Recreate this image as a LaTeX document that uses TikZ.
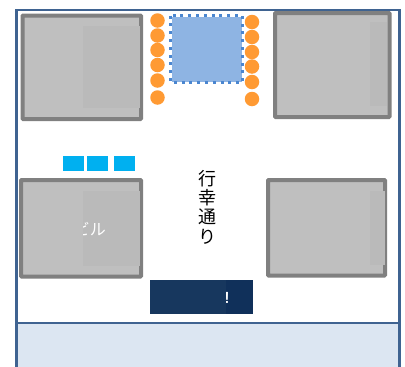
\documentclass[tikz,border=0pt]{standalone}
\usepackage{fontspec}
\newfontfamily\cjk{Noto Sans CJK JP}
\definecolor{frameblue}{HTML}{3F6391}
\definecolor{bandfill}{HTML}{DCE6F2}
\definecolor{bldgedge}{HTML}{808080}
\definecolor{bldgfill}{HTML}{BFBFBF}
\definecolor{bldginner}{HTML}{BABABA}
\definecolor{orangedot}{HTML}{FF9A33}
\definecolor{plazafill}{HTML}{8EB4E3}
\definecolor{plazaedge}{HTML}{4A86D0}
\definecolor{cyanbox}{HTML}{00B0F0}
\definecolor{navyA}{HTML}{17375E}
\definecolor{navyB}{HTML}{10305A}
\tikzset{
  bldg/.style={draw=bldgedge,fill=bldgfill,line width=4pt,rounded corners=0.6pt},
  inner part/.style={fill=bldginner,draw=none},
  dot/.style={circle,fill=orangedot,draw=none,minimum size=14.5pt,inner sep=0pt},
  seat/.style={fill=cyanbox,draw=none},
}
\begin{document}
\begin{tikzpicture}[x=1pt,y=-1pt]
\useasboundingbox (0,0) rectangle (405,367);
\fill[white] (0,0) rectangle (405,367);
% outer frame and band
\fill[bandfill] (18,323) rectangle (398.5,367);
\draw[frameblue,line width=2.6pt] (16.7,367) -- (16.7,10) -- (399.5,10) -- (399.5,367);
\draw[frameblue,line width=2.6pt] (16.7,323) -- (399.5,323);
% buildings
\draw[bldg] (22.5,15.5) rectangle (141,119);
\fill[inner part] (83,26) rectangle (140,108);
\draw[bldg] (275,13) rectangle (389.5,117);
\fill[inner part] (370,22) rectangle (387,106);
\draw[bldg] (21,180) rectangle (141,276.5);
\fill[inner part] (83,190.7) rectangle (139.5,266);
\draw[bldg] (268,180) rectangle (385,275.5);
\fill[inner part] (370,191) rectangle (385,265);
% clipped label on building
\begin{scope}
\clip (83,190) rectangle (140,266);
\node[text=white,font=\cjk\fontsize{16}{16}\selectfont,inner sep=0pt] (bldglabel) at (90,229.5) {ビル};
\end{scope}
% plaza
\fill[plazafill] (171.5,17) rectangle (241.5,81.5);
\draw[plazaedge,line width=3pt,dash pattern=on 3pt off 4.8pt] (170.5,15.5) rectangle (242.5,82.5);
% orange dots
\foreach \n/\y in {a/20.5,b/35.5,c/50,d/65,e/80.5,f/97.5}{\node[dot] (l\n) at (157.5,\y) {};}
\foreach \n/\y in {a/22,b/37,c/52,d/66.5,e/82,f/99}{\node[dot] (r\n) at (252,\y) {};}
% cyan boxes
\fill[seat] (63,156) rectangle (84,171);
\fill[seat] (87,156) rectangle (108,171);
\fill[seat] (114,156) rectangle (135,171);
% vertical street name
\node[font=\cjk\fontsize{18}{19.3}\selectfont,align=center,inner sep=0pt,text=black] (street) at (207,207) {行\\幸\\通\\り};
% navy block
\fill[navyA] (150,280) rectangle (226,314);
\fill[navyB] (226,280) rectangle (253,314);
\begin{scope}
\clip (226,280) rectangle (253,314);
\node[text=white,font=\sffamily\bfseries\fontsize{16}{16}\selectfont,inner sep=0pt] (navylabel) at (227,297.5) {!};
\end{scope}
\end{tikzpicture}
\end{document}
